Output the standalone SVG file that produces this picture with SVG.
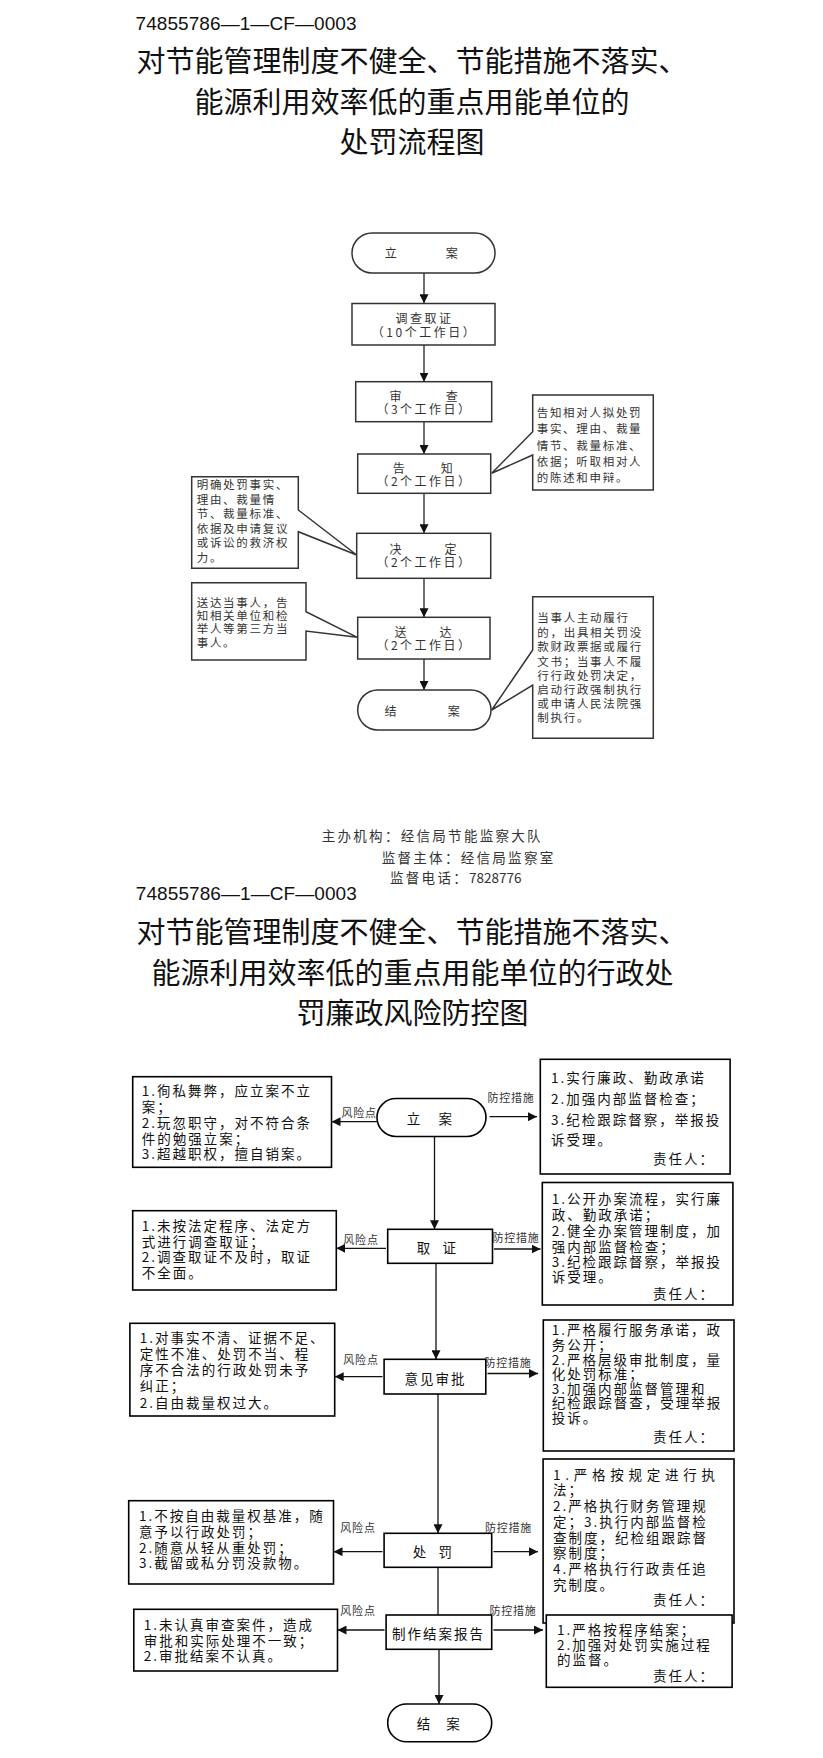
<svg xmlns="http://www.w3.org/2000/svg" width="823" height="1758" viewBox="0 0 823 1758">
<style>
text{font-family:"Noto Sans CJK SC","Noto Sans",sans-serif;fill:#111}
.code{font-family:"Liberation Sans",Arial,sans-serif;font-size:19px}
.t{font-size:29px;text-anchor:middle;dominant-baseline:central}
.b1{font-size:12px;letter-spacing:2.5px;dominant-baseline:central;fill:#333}
.m{text-anchor:middle}
.c1{font-size:11.5px;letter-spacing:1.7px;dominant-baseline:central;fill:#333}
.ft{font-size:13.5px;letter-spacing:2.3px;dominant-baseline:central;fill:#333}
.b2{font-size:13.5px;letter-spacing:2px;dominant-baseline:central}
.lb{font-size:11px;letter-spacing:0.8px;text-anchor:middle;dominant-baseline:central;fill:#333}
.r{text-anchor:end}
.s1{fill:#fff;stroke:#333;stroke-width:1.5}
.s2{fill:#fff;stroke:#000;stroke-width:1.6}
.ln1{stroke:#333;stroke-width:1.4;fill:none}
.ln2{stroke:#111;stroke-width:1.3;fill:none}
</style>
<defs>
<marker id="ah" markerWidth="9" markerHeight="9" refX="9" refY="4.5" orient="auto" markerUnits="userSpaceOnUse"><path d="M0,0 L9,4.5 L0,9 z" fill="#111"/></marker>
</defs>
<rect width="823" height="1758" fill="#fff"/>

<!-- header 1 -->
<g id="header1">
<text class="code" x="135.5" y="30" textLength="221">74855786—1—CF—0003</text>
<text class="t" x="412" y="59">对节能管理制度不健全、节能措施不落实、</text>
<text class="t" x="412" y="100">能源利用效率低的重点用能单位的</text>
<text class="t" x="412" y="140">处罚流程图</text>
</g>

<!-- connectors diagram 1 -->
<g id="connectors1">
<line class="ln1" x1="424" y1="273" x2="424" y2="303.3" marker-end="url(#ah)"/>
<line class="ln1" x1="424" y1="345" x2="424" y2="381.7" marker-end="url(#ah)"/>
<line class="ln1" x1="424" y1="421.7" x2="424" y2="454" marker-end="url(#ah)"/>
<line class="ln1" x1="424" y1="493.3" x2="424" y2="533.3" marker-end="url(#ah)"/>
<line class="ln1" x1="424" y1="578.3" x2="424" y2="617.3" marker-end="url(#ah)"/>
<line class="ln1" x1="424" y1="659" x2="424" y2="690" marker-end="url(#ah)"/>
</g>

<g id="f1-lian"><rect class="s1" x="352" y="233" width="143" height="40" rx="20"/>
<text class="b1 m" x="392" y="252.5">立</text><text class="b1 m" x="453" y="252.5">案</text></g>
<g id="f1-diaocha"><rect class="s1" x="352" y="303.5" width="143" height="41.5"/>
<text class="b1 m" x="424.5" y="317">调查取证</text><text class="b1 m" x="424.5" y="331">（10个工作日）</text></g>
<g id="f1-shencha"><rect class="s1" x="355.7" y="381.7" width="136" height="40"/>
<text class="b1 m" x="396.7" y="395">审</text><text class="b1 m" x="453" y="395">查</text>
<text class="b1 m" x="424.5" y="408.5">（3个工作日）</text></g>
<g id="f1-gaozhi"><rect class="s1" x="357.7" y="454" width="133" height="39.3"/>
<text class="b1 m" x="400" y="467">告</text><text class="b1 m" x="448" y="467">知</text>
<text class="b1 m" x="424.5" y="480.5">（2个工作日）</text></g>
<g id="f1-jueding"><rect class="s1" x="356.7" y="533.3" width="134" height="45"/>
<text class="b1 m" x="396.7" y="548.3">决</text><text class="b1 m" x="451.7" y="548.3">定</text>
<text class="b1 m" x="424.5" y="561.7">（2个工作日）</text></g>
<g id="f1-songda"><rect class="s1" x="357.7" y="617.3" width="132.3" height="41.7"/>
<text class="b1 m" x="401.7" y="631">送</text><text class="b1 m" x="446.7" y="631">达</text>
<text class="b1 m" x="424.5" y="644">（2个工作日）</text></g>
<g id="f1-jiean"><rect class="s1" x="357.7" y="690" width="133.3" height="40" rx="20"/>
<text class="b1 m" x="391.7" y="710">结</text><text class="b1 m" x="455" y="710">案</text></g>

<g id="f1-note-gaozhi"><path class="s1" d="M532.7,395 H653.3 V490 H532.7 V455 L491.7,473.3 L532.7,431.7 Z"/>
<text class="c1" x="536.7" y="411.7">告知相对人拟处罚</text>
<text class="c1" x="536.7" y="428">事实、理由、裁量</text>
<text class="c1" x="536.7" y="444.5">情节、裁量标准、</text>
<text class="c1" x="536.7" y="461">依据；听取相对人</text>
<text class="c1" x="536.7" y="477">的陈述和申辩。</text></g>
<g id="f1-note-jueding"><path class="s1" d="M191.7,476.7 H298.3 V510 L356.7,555 L298.3,531.7 V568.3 H191.7 Z"/>
<text class="c1" x="196.7" y="484">明确处罚事实、</text>
<text class="c1" x="196.7" y="498.5">理由、裁量情</text>
<text class="c1" x="196.7" y="513">节、裁量标准、</text>
<text class="c1" x="196.7" y="527.5">依据及申请复议</text>
<text class="c1" x="196.7" y="542">或诉讼的救济权</text>
<text class="c1" x="196.7" y="556.5">力。</text></g>
<g id="f1-note-songda"><path class="s1" d="M191.7,582.7 H306 V611.7 L357.3,637.3 L306,631 V660 H191.7 Z"/>
<text class="c1" x="196.7" y="601.7">送达当事人，告</text>
<text class="c1" x="196.7" y="615">知相关单位和检</text>
<text class="c1" x="196.7" y="628.3">举人等第三方当</text>
<text class="c1" x="196.7" y="641.7">事人。</text></g>
<g id="f1-note-jiean"><path class="s1" d="M532.7,596.7 H653.3 V738.3 H532.7 V685 L491.7,710 L532.7,650 Z"/>
<text class="c1" x="537.3" y="617.3">当事人主动履行</text>
<text class="c1" x="537.3" y="631.7">的，出具相关罚没</text>
<text class="c1" x="537.3" y="646">款财政票据或履行</text>
<text class="c1" x="537.3" y="660.5">文书；当事人不履</text>
<text class="c1" x="537.3" y="674.5">行行政处罚决定，</text>
<text class="c1" x="537.3" y="689">启动行政强制执行</text>
<text class="c1" x="537.3" y="703">或申请人民法院强</text>
<text class="c1" x="537.3" y="717.3">制执行。</text></g>

<g id="footer">
<text class="ft" x="321.7" y="835">主办机构：经信局节能监察大队</text>
<text class="ft" x="381.7" y="857.3">监督主体：经信局监察室</text>
<text class="ft" x="390" y="877.3">监督电话：<tspan style="letter-spacing:0">7828776</tspan></text>
</g>

<!-- header 2 -->
<g id="header2">
<text class="code" x="135.8" y="900" textLength="221">74855786—1—CF—0003</text>
<text class="t" x="412" y="930">对节能管理制度不健全、节能措施不落实、</text>
<text class="t" x="412.5" y="970.5">能源利用效率低的重点用能单位的行政处</text>
<text class="t" x="412.5" y="1011">罚廉政风险防控图</text>
</g>

<!-- connectors diagram 2 -->
<g id="connectors2">
<line class="ln2" x1="434.5" y1="1136.7" x2="434.5" y2="1229.3" marker-end="url(#ah)"/>
<line class="ln2" x1="436" y1="1263.3" x2="436" y2="1359.3" marker-end="url(#ah)"/>
<line class="ln2" x1="438" y1="1394" x2="438" y2="1533.3" marker-end="url(#ah)"/>
<line class="ln2" x1="438" y1="1567.3" x2="438" y2="1615"/>
<line class="ln2" x1="439" y1="1649.3" x2="439" y2="1704" marker-end="url(#ah)"/>
<line class="ln2" x1="377" y1="1121.7" x2="331.5" y2="1121.7" marker-end="url(#ah)"/>
<line class="ln2" x1="489.5" y1="1116.7" x2="537" y2="1116.7" marker-end="url(#ah)"/>
<line class="ln2" x1="386" y1="1248.3" x2="336.3" y2="1248.3" marker-end="url(#ah)"/>
<line class="ln2" x1="494" y1="1249" x2="540.5" y2="1249" marker-end="url(#ah)"/>
<line class="ln2" x1="382.5" y1="1376.7" x2="334.7" y2="1376.7" marker-end="url(#ah)"/>
<line class="ln2" x1="487.5" y1="1373.5" x2="538" y2="1373.5" marker-end="url(#ah)"/>
<line class="ln2" x1="382.5" y1="1551.7" x2="333.5" y2="1551.7" marker-end="url(#ah)"/>
<line class="ln2" x1="493.5" y1="1551.7" x2="538" y2="1551.7" marker-end="url(#ah)"/>
<line class="ln2" x1="384.5" y1="1630" x2="337.5" y2="1630" marker-end="url(#ah)"/>
<line class="ln2" x1="493.5" y1="1630" x2="543" y2="1630" marker-end="url(#ah)"/>
<text class="lb" x="359.2" y="1111.7">风险点</text>
<text class="lb" x="511" y="1097">防控措施</text>
<text class="lb" x="361" y="1239">风险点</text>
<text class="lb" x="516" y="1237">防控措施</text>
<text class="lb" x="361" y="1358.5">风险点</text>
<text class="lb" x="508" y="1362">防控措施</text>
<text class="lb" x="358" y="1527.3">风险点</text>
<text class="lb" x="508.5" y="1527">防控措施</text>
<text class="lb" x="358" y="1610">风险点</text>
<text class="lb" x="513" y="1610">防控措施</text>
</g>

<g id="f2-lian"><rect class="s2" x="377" y="1098.5" width="109" height="38" rx="19"/>
<text class="b2 m" x="414.6" y="1118">立</text><text class="b2 m" x="446.2" y="1118">案</text></g>
<g id="f2-quzheng"><rect class="s2" x="387.7" y="1229.3" width="104.8" height="34"/>
<text class="b2 m" x="424.5" y="1247">取</text><text class="b2 m" x="450.2" y="1247">证</text></g>
<g id="f2-yijian"><rect class="s2" x="384.1" y="1359.3" width="101.7" height="34.7"/>
<text class="b2 m" x="435.5" y="1378">意见审批</text></g>
<g id="f2-chufa"><rect class="s2" x="384.1" y="1533.3" width="107.6" height="34"/>
<text class="b2 m" x="420.5" y="1551">处</text><text class="b2 m" x="446.2" y="1551">罚</text></g>
<g id="f2-zhizuo"><rect class="s2" x="386.1" y="1615" width="105.6" height="34.3"/>
<text class="b2 m" x="438.5" y="1632.5">制作结案报告</text></g>
<g id="f2-jiean"><rect class="s2" x="387.7" y="1704" width="104" height="37.7" rx="18.8"/>
<text class="b2 m" x="424.5" y="1723">结</text><text class="b2 m" x="454.1" y="1723">案</text></g>

<g id="f2-risk-lian"><rect class="s2" x="132.7" y="1076.7" width="198.8" height="90.6"/>
<text class="b2" x="141.7" y="1090">1.徇私舞弊，应立案不立</text>
<text class="b2" x="141.7" y="1106">案；</text>
<text class="b2" x="141.7" y="1121.7">2.玩忽职守，对不符合条</text>
<text class="b2" x="141.7" y="1137.5">件的勉强立案；</text>
<text class="b2" x="141.7" y="1153.3">3.超越职权，擅自销案。</text></g>
<g id="f2-ctrl-lian"><rect class="s2" x="540.3" y="1059.3" width="189.8" height="114.7"/>
<text class="b2" x="551" y="1077">1.实行廉政、勤政承诺</text>
<text class="b2" x="551" y="1098">2.加强内部监督检查；</text>
<text class="b2" x="551" y="1118.5">3.纪检跟踪督察，举报投</text>
<text class="b2" x="551" y="1139">诉受理。</text>
<text class="b2 r" x="715" y="1158.3">责任人：</text></g>

<g id="f2-risk-quzheng"><rect class="s2" x="132.7" y="1210.7" width="203.6" height="79.3"/>
<text class="b2" x="141.7" y="1225">1.未按法定程序、法定方</text>
<text class="b2" x="141.7" y="1240.5">式进行调查取证；</text>
<text class="b2" x="141.7" y="1256">2.调查取证不及时，取证</text>
<text class="b2" x="141.7" y="1271.5">不全面。</text></g>
<g id="f2-ctrl-quzheng"><rect class="s2" x="542.3" y="1182.5" width="190.6" height="122.5"/>
<text class="b2" x="551.7" y="1197.7">1.公开办案流程，实行廉</text>
<text class="b2" x="551.7" y="1214">政、勤政承诺；</text>
<text class="b2" x="551.7" y="1230">2.健全办案管理制度，加</text>
<text class="b2" x="551.7" y="1245.5">强内部监督检查；</text>
<text class="b2" x="551.7" y="1261">3.纪检跟踪督察，举报投</text>
<text class="b2" x="551.7" y="1276">诉受理。</text>
<text class="b2 r" x="715" y="1293.3">责任人：</text></g>

<g id="f2-risk-yijian"><rect class="s2" x="129.9" y="1323.3" width="204.8" height="92.7"/>
<text class="b2" x="139.8" y="1337">1.对事实不清、证据不足、</text>
<text class="b2" x="139.8" y="1353.3">定性不准、处罚不当、程</text>
<text class="b2" x="139.8" y="1369">序不合法的行政处罚未予</text>
<text class="b2" x="139.8" y="1385">纠正；</text>
<text class="b2" x="139.8" y="1401.5">2.自由裁量权过大。</text></g>
<g id="f2-ctrl-yijian"><rect class="s2" x="543.3" y="1320" width="190.7" height="131"/>
<text class="b2" x="551.7" y="1329">1.严格履行服务承诺，政</text>
<text class="b2" x="551.7" y="1344">务公开；</text>
<text class="b2" x="551.7" y="1358.7">2.严格层级审批制度，量</text>
<text class="b2" x="551.7" y="1373.3">化处罚标准；</text>
<text class="b2" x="551.7" y="1388">3.加强内部监督管理和</text>
<text class="b2" x="551.7" y="1402.3">纪检跟踪督查，受理举报</text>
<text class="b2" x="551.7" y="1417">投诉。</text>
<text class="b2 r" x="715" y="1436">责任人：</text></g>

<g id="f2-risk-chufa"><rect class="s2" x="128.7" y="1500.7" width="204.8" height="83.3"/>
<text class="b2" x="139" y="1515">1.不按自由裁量权基准，随</text>
<text class="b2" x="139" y="1531">意予以行政处罚；</text>
<text class="b2" x="139" y="1546.7">2.随意从轻从重处罚；</text>
<text class="b2" x="139" y="1562">3.截留或私分罚没款物。</text></g>
<g id="f2-ctrl-chufa"><rect class="s2" x="543.1" y="1459" width="190.9" height="164"/>
<text class="b2" x="553" y="1473.5" textLength="164">1.严格按规定进行执</text>
<text class="b2" x="553" y="1489">法；</text>
<text class="b2" x="553" y="1505">2.严格执行财务管理规</text>
<text class="b2" x="553" y="1520.5">定；3.执行内部监督检</text>
<text class="b2" x="553" y="1536.5">查制度，纪检组跟踪督</text>
<text class="b2" x="553" y="1552">察制度；</text>
<text class="b2" x="553" y="1568">4.严格执行行政责任追</text>
<text class="b2" x="553" y="1583.5">究制度。</text>
<text class="b2 r" x="715" y="1599">责任人：</text></g>

<g id="f2-risk-zhizuo"><rect class="s2" x="133.8" y="1609.3" width="203.7" height="61.7"/>
<text class="b2" x="143.7" y="1623.5">1.未认真审查案件，造成</text>
<text class="b2" x="143.7" y="1639.5">审批和实际处理不一致；</text>
<text class="b2" x="143.7" y="1655">2.审批结案不认真。</text></g>
<g id="f2-ctrl-zhizuo"><rect class="s2" x="546.3" y="1615" width="185.8" height="72.3"/>
<text class="b2" x="557" y="1628.5">1.严格按程序结案；</text>
<text class="b2" x="557" y="1643.5">2.加强对处罚实施过程</text>
<text class="b2" x="557" y="1658.5">的监督。</text>
<text class="b2 r" x="715" y="1675">责任人：</text></g>
</svg>
